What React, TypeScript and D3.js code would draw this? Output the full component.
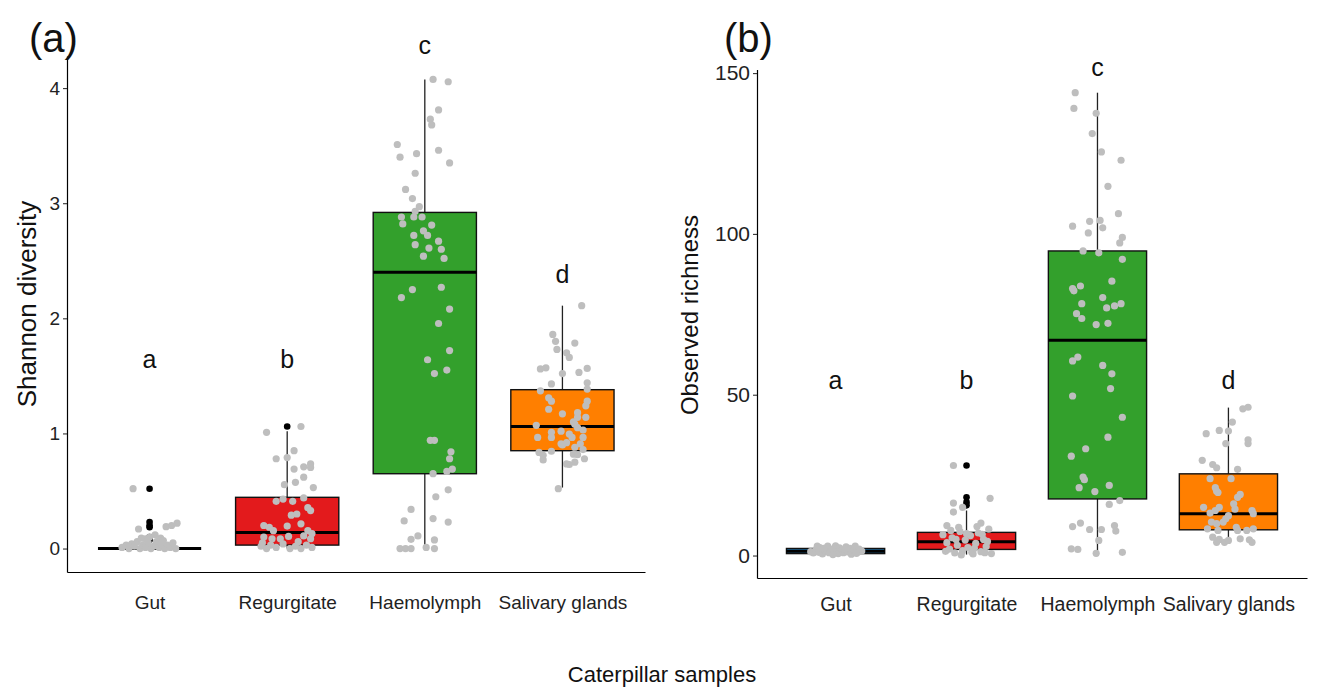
import React, { useEffect, useRef } from 'react'
import * as d3 from 'd3'

// categories and fills (same for both panels)
const categories = ['Gut', 'Regurgitate', 'Haemolymph', 'Salivary glands']
const fills = ['#1F78B4', '#E31A1C', '#33A02C', '#FF7F00']

// ---------- panel (a) Shannon diversity ----------
// box stats per category: [whiskerLow, q1, median, q3, whiskerHigh]
const shannonStats = [
  [0, 0, 0, 0, 0],
  [0, 0.03, 0.14, 0.445, 1.02],
  [0, 0.65, 2.4, 2.92, 4.075],
  [0.53, 0.85, 1.06, 1.38, 2.11],
]
const shannonOutliers = [
  [0.52, 0.23, 0.2, 0.185, 0.1, 0.075],
  [1.06],
  [],
  [],
]
const shannonLetters = ['a', 'b', 'c', 'd']
const shannonLetterY = [1.57, 1.57, 4.3, 2.31]
// jittered raw points: [offset in category units, value]
const shannonGut = [
  [-0.12, 0.52], [-0.08, 0.17], [0.12, 0.19], [0.16, 0.2], [0.2, 0.22], [-0.03, 0.085], [0.08, 0.09],
  [-0.2, 0.01], [-0.17, 0.03], [-0.15, 0], [-0.13, 0.04], [-0.11, 0.02], [-0.09, 0.06], [-0.07, 0],
  [-0.05, 0.03], [-0.03, 0.01], [-0.01, 0.05], [0.01, 0], [0.03, 0.02], [0.05, 0.06], [0.07, 0.01],
  [0.09, 0.04], [0.11, 0], [0.13, 0.03], [0.15, 0.01], [0.17, 0.05], [0.19, 0], [0, 0.1], [0.04, 0.12],
  [-0.06, 0.09], [0.1, 0.07],
]
const shannonRegurgitate = [
  [0.1, 1.06], [-0.15, 1.01], [-0.08, 0.78], [0, 0.79], [0.05, 0.85], [0.05, 0.69], [0.12, 0.71],
  [0.17, 0.735], [0.17, 0.705], [0.12, 0.62], [-0.02, 0.555], [0.06, 0.575], [0.19, 0.53], [-0.08, 0.41],
  [-0.03, 0.43], [0.04, 0.41], [0.12, 0.44], [0.15, 0.355], [0.17, 0.33], [0.03, 0.29], [0.07, 0.3],
  [0.1, 0.215], [-0.17, 0.2], [-0.13, 0.185], [-0.1, 0.155], [0, 0.195], [0.15, 0.155], [0.18, 0.13],
  [-0.17, 0.1], [-0.11, 0.085], [-0.05, 0.085], [0.01, 0.105], [0.12, 0.11], [0.17, 0.085], [-0.19, 0.02],
  [-0.15, 0], [-0.12, 0.03], [-0.08, 0.01], [-0.03, 0.04], [0.02, 0], [0.06, 0.02], [0.1, 0], [0.14, 0.03],
  [0.18, 0.01], [-0.18, 0.05], [0.08, 0.06],
]
const shannonHaemolymph = [
  [0.06, 4.075], [0.17, 4.055], [0.1, 3.81], [0.04, 3.73], [0.05, 3.68], [-0.2, 3.51], [-0.18, 3.4],
  [-0.06, 3.43], [0.1, 3.46], [0.18, 3.35], [-0.07, 3.26], [-0.14, 3.12], [-0.09, 3.04], [-0.07, 2.93],
  [-0.04, 2.97], [-0.17, 2.88], [-0.08, 2.88], [-0.02, 2.88], [-0.16, 2.82], [0.05, 2.81], [-0.01, 2.76],
  [0.02, 2.72], [-0.08, 2.72], [0.1, 2.67], [-0.07, 2.64], [0.03, 2.61], [0.12, 2.6], [-0.01, 2.54],
  [0.14, 2.52], [-0.09, 2.25], [-0.17, 2.18], [0.12, 2.27], [0.18, 2.08], [0.1, 1.955], [0.18, 1.72],
  [0.02, 1.64], [0.07, 1.52], [0.16, 1.55], [0.04, 0.94], [0.07, 0.94], [0.19, 0.84], [0.18, 0.78],
  [0.2, 0.69], [0.16, 0.67], [0.06, 0.65], [0.17, 0.51], [0.08, 0.45], [-0.1, 0.34], [-0.15, 0.24],
  [0.06, 0.26], [0.17, 0.23], [-0.05, 0.11], [-0.1, 0.08], [0.07, 0.075], [-0.18, 0], [-0.14, 0],
  [-0.1, 0], [0.01, 0.01], [0.07, 0],
]
const shannonSalivary = [
  [0.14, 2.11], [-0.07, 1.86], [-0.05, 1.8], [0.09, 1.785], [-0.04, 1.73], [0.03, 1.7], [0.05, 1.66],
  [-0.16, 1.56], [-0.12, 1.57], [0, 1.52], [0.12, 1.53], [0.18, 1.565], [-0.08, 1.43], [0.18, 1.44],
  [0.18, 1.385], [-0.16, 1.37], [-0.1, 1.31], [-0.08, 1.28], [0.18, 1.28], [0.17, 1.24], [-0.1, 1.21],
  [0, 1.17], [0.11, 1.18], [0.11, 1.14], [0.17, 1.14], [0.08, 1.1], [-0.19, 1.07], [0.09, 1.08],
  [0.11, 1.05], [-0.01, 1.02], [0.15, 1.03], [-0.08, 1.01], [-0.08, 0.965], [-0.18, 0.965], [0.05, 0.995],
  [0.07, 0.965], [0.15, 0.965], [0.03, 0.92], [0, 0.9], [-0.01, 0.91], [0.13, 0.91], [0.09, 0.88],
  [0.15, 0.86], [-0.17, 0.835], [-0.14, 0.81], [-0.08, 0.845], [0.08, 0.82], [0.11, 0.815], [-0.14, 0.77],
  [0.16, 0.78], [0.09, 0.75], [0.05, 0.73], [0.03, 0.735], [-0.03, 0.52],
]

// ---------- panel (b) Observed richness ----------
const richnessStats = [
  [0.2, 0.6, 1.3, 2.2, 3.0],
  [0.3, 1.9, 4.3, 7.2, 14],
  [0.7, 17.6, 66.9, 94.7, 143.9],
  [4.1, 8.0, 13.0, 25.4, 46.0],
]
const richnessOutliers = [[], [28, 18.1, 16.6, 15.6], [], []]
const richnessLetters = ['a', 'b', 'c', 'd']
const richnessLetterY = [51.7, 51.7, 149.1, 51.7]
const richnessGut = [
  [-0.19, 1.2], [-0.17, 0.8], [-0.15, 1.8], [-0.13, 1.0], [-0.12, 2.5], [-0.1, 0.5], [-0.08, 1.6],
  [-0.06, 2.9], [-0.05, 0.9], [-0.03, 2.0], [-0.01, 1.3], [0, 3.0], [0.02, 0.6], [0.03, 2.4], [0.05, 1.5],
  [0.06, 0.9], [0.08, 2.7], [0.09, 1.1], [0.11, 2.2], [0.12, 0.4], [0.14, 1.7], [0.15, 2.9], [0.17, 1.0],
  [0.18, 2.0], [0.2, 1.4], [-0.14, 2.9], [-0.02, 0.3], [0.07, 1.9], [0.16, 0.7], [-0.09, 2.2],
]
const richnessRegurgitate = [
  [-0.1, 28], [0.18, 17.8], [-0.1, 16.3], [-0.1, 13.5], [-0.03, 15.0], [-0.15, 9.3], [-0.06, 8.8],
  [0.11, 10.1], [-0.18, 6.5], [-0.15, 4.0], [-0.13, 2.0], [-0.11, 5.5], [-0.09, 0.8], [-0.07, 3.2],
  [-0.05, 7.5], [-0.03, 1.5], [-0.01, 4.8], [0.01, 2.5], [0.03, 6.2], [0.05, 0.5], [0.07, 3.8], [0.09, 7.0],
  [0.11, 1.2], [0.13, 5.0], [0.15, 2.8], [0.17, 8.2], [0.19, 0.6], [0.14, 0.9], [-0.12, 7.8], [0.08, 9.0],
  [0, 6.8], [-0.04, 0.2], [0.04, 1.0], [0.16, 4.4], [-0.16, 1.3], [0.12, 6.6], [-0.08, 5.0], [0.06, 2.2],
]
const richnessHaemolymph = [
  [-0.17, 143.9], [-0.18, 139.0], [-0.01, 137.5], [-0.04, 131.2], [0.03, 125.5], [0.18, 122.9],
  [0.08, 114.8], [0.16, 106.3], [-0.19, 102.4], [-0.06, 103.9], [0.02, 104.2], [0.04, 101.9],
  [-0.07, 100.3], [0.19, 98.9], [0.17, 97.2], [-0.11, 94.7], [0.01, 94.1], [0.19, 92.1], [0.11, 85.3],
  [-0.19, 83.0], [-0.18, 82.3], [-0.13, 83.8], [0.04, 80.2], [-0.12, 78.3], [0.07, 77.0], [0.13, 77.6],
  [0.18, 78.3], [-0.16, 75.2], [-0.12, 73.7], [-0.01, 71.8], [0.08, 72.2], [-0.19, 60.5], [-0.15, 61.7],
  [0.04, 59.1], [0.11, 56.5], [0.1, 51.9], [-0.19, 49.6], [0.19, 43.0], [0.08, 36.8], [-0.09, 33.2],
  [-0.2, 30.9], [-0.11, 24.4], [-0.1, 23.6], [-0.14, 21.1], [-0.02, 19.9], [0.09, 21.8], [0.17, 17.1],
  [0.09, 15.9], [-0.19, 9.0], [-0.13, 10.1], [-0.06, 8.1], [0.03, 8.1], [0.13, 9.3], [0.14, 7.6],
  [0.01, 4.7], [-0.2, 2.1], [-0.15, 1.9], [-0.01, 0.7], [0.19, 1.0],
]
const richnessSalivary = [
  [0.11, 45.6], [0.15, 46.1], [0.03, 41.5], [-0.17, 37.9], [-0.07, 38.9], [0, 38.7], [0.15, 36.0],
  [0.15, 34.8], [-0.02, 34.8], [-0.2, 29.6], [-0.12, 28.3], [-0.09, 27.3], [0.07, 26.8], [-0.14, 23.9],
  [0.02, 23.9], [-0.1, 21.1], [-0.09, 20.0], [-0.08, 19.6], [0.09, 19.0], [0.07, 18.1], [0.04, 16.1],
  [-0.19, 15.0], [-0.07, 15.0], [0.18, 14.0], [0.19, 13.0], [-0.14, 13.2], [-0.1, 14.0], [0.05, 14.4],
  [0, 12.4], [-0.02, 11.4], [-0.13, 10.4], [-0.09, 9.9], [-0.04, 10.4], [-0.16, 8.3], [-0.08, 7.8],
  [0.06, 8.8], [0.07, 7.8], [0.14, 7.8], [0.19, 8.3], [-0.12, 5.7], [-0.07, 5.0], [-0.09, 4.1],
  [-0.03, 4.1], [0, 4.7], [0.09, 5.2], [0.16, 4.9], [0.18, 4.1],
]

const shannonPoints = [shannonGut, shannonRegurgitate, shannonHaemolymph, shannonSalivary]
const richnessPoints = [richnessGut, richnessRegurgitate, richnessHaemolymph, richnessSalivary]

const FONT = "'Liberation Sans', Arial, Helvetica, sans-serif"

function Panel({ cfg }) {
  const ref = useRef(null)

  useEffect(() => {
    const root = d3.select(ref.current)
    root.selectAll('*').remove()

    const x = d3.scalePoint().domain(categories).range([cfg.left, cfg.right]).padding(0.6)
    const step = x.step()
    const lo = d3.min(cfg.stats, (s) => s[0])
    const hi = d3.max(cfg.stats, (s) => s[4])
    const pad = (hi - lo) * 0.05
    const y = d3.scaleLinear().domain([lo - pad, hi + pad]).range([cfg.bottom, cfg.top])

    // axes
    const ya = root.append('g')
      .attr('transform', `translate(${cfg.left},0)`)
      .call(d3.axisLeft(y).tickValues(cfg.ticks).tickFormat(d3.format('d'))
        .tickSize(4).tickSizeOuter(0).tickPadding(3))
    ya.select('.domain').attr('stroke', '#000').attr('stroke-width', 1.2)
    ya.selectAll('.tick line').attr('stroke', '#333').attr('stroke-width', 1.1)
    ya.selectAll('.tick text').attr('fill', '#222').attr('font-size', cfg.yTickSize).attr('font-family', FONT)

    const xa = root.append('g')
      .attr('transform', `translate(0,${cfg.bottom})`)
      .call(d3.axisBottom(x).tickSize(0).tickSizeOuter(0).tickPadding(cfg.xTickPad))
    xa.select('.domain').attr('stroke', '#000').attr('stroke-width', 1.2)
    xa.selectAll('.tick text').attr('fill', '#222').attr('font-size', cfg.xTickSize).attr('font-family', FONT)

    const bw = step * 0.75
    const groups = root.append('g')
    categories.forEach((c, i) => {
      const cx = x(c)
      const [wl, q1, md, q3, wh] = cfg.stats[i]
      const gg = groups.append('g')
      // whiskers
      gg.append('line').attr('x1', cx).attr('x2', cx).attr('y1', y(q3)).attr('y2', y(wh))
        .attr('stroke', '#222').attr('stroke-width', 1.3)
      gg.append('line').attr('x1', cx).attr('x2', cx).attr('y1', y(q1)).attr('y2', y(wl))
        .attr('stroke', '#222').attr('stroke-width', 1.3)
      // box
      gg.append('rect').attr('x', cx - bw / 2).attr('width', bw)
        .attr('y', y(q3)).attr('height', Math.max(0, y(q1) - y(q3)))
        .attr('fill', fills[i]).attr('stroke', '#111').attr('stroke-width', 1.4)
      gg.append('line').attr('x1', cx - bw / 2).attr('x2', cx + bw / 2).attr('y1', y(md)).attr('y2', y(md))
        .attr('stroke', '#000').attr('stroke-width', 3)
      // outliers
      gg.selectAll('circle.out').data(cfg.outliers[i]).join('circle')
        .attr('class', 'out').attr('cx', cx).attr('cy', (d) => y(d)).attr('r', 3.3).attr('fill', '#000')
      // jittered points
      gg.selectAll('circle.pt').data(cfg.points[i]).join('circle')
        .attr('class', 'pt').attr('cx', (d) => cx + d[0] * step).attr('cy', (d) => y(d[1]))
        .attr('r', cfg.r).attr('fill', '#BEBEBE')
      // letters
      gg.append('text').attr('x', cx).attr('y', y(cfg.letterY[i]))
        .attr('text-anchor', 'middle').attr('font-size', cfg.letterSize).attr('font-family', FONT)
        .attr('fill', '#111').text(cfg.letters[i])
    })

    // axis title
    root.append('text')
      .attr('transform', `translate(${cfg.titleX},${cfg.titleY}) rotate(-90)`)
      .attr('text-anchor', 'middle').attr('font-size', cfg.titleSize).attr('font-family', FONT)
      .attr('fill', '#111').text(cfg.title)

    root.append('text').attr('x', cfg.tagX).attr('y', cfg.tagY)
      .attr('font-size', 40).attr('font-family', FONT).attr('fill', '#111').text(cfg.tag)
  }, [cfg])

  return <g ref={ref}></g>
}

const panelA = {
  left: 67, right: 645, top: 56, bottom: 572,
  stats: shannonStats, outliers: shannonOutliers, points: shannonPoints,
  letters: shannonLetters, letterY: shannonLetterY,
  ticks: [0, 1, 2, 3, 4], yTickSize: 19, xTickSize: 19, xTickPad: 24,
  letterSize: 25, r: 3.6, title: 'Shannon diversity', titleX: 36, titleY: 304, titleSize: 26,
  tag: '(a)', tagX: 29, tagY: 52,
}
const panelB = {
  left: 757, right: 1307, top: 69.6, bottom: 578,
  stats: richnessStats, outliers: richnessOutliers, points: richnessPoints,
  letters: richnessLetters, letterY: richnessLetterY,
  ticks: [0, 50, 100, 150], yTickSize: 21, xTickSize: 19.5, xTickPad: 19,
  letterSize: 25, r: 3.6, title: 'Observed richness', titleX: 698, titleY: 315, titleSize: 24,
  tag: '(b)', tagX: 724, tagY: 52,
}

export default function App() {
  return (
    <svg width={1321} height={689} style={{ position: 'absolute', left: 0, top: 0, background: '#fff' }}>
      <Panel cfg={panelA} />
      <Panel cfg={panelB} />
      <text x={662} y={682} textAnchor="middle" fontSize={22} fontFamily={FONT} fill="#111">
        Caterpillar samples
      </text>
    </svg>
  )
}
